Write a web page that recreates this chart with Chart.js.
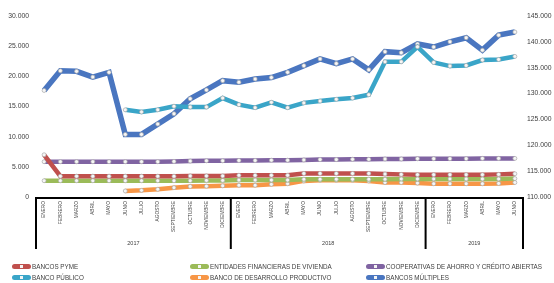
<!DOCTYPE html>
<html>
<head>
<meta charset="utf-8">
<script src="https://cdn.jsdelivr.net/npm/chart.js@4/dist/chart.umd.min.js"></script>
<style>
html, body { margin: 0; padding: 0; background: #fff; }
#wrap { position: relative; width: 554px; height: 283px; }
#legend { position: absolute; left: 0; top: 0; width: 554px; height: 283px; pointer-events: none;
  font-family: 'Liberation Sans', sans-serif; font-size: 6.3px; color: #404040; }
.item { position: absolute; display: flex; align-items: center; height: 10px; white-space: nowrap; }
.sw { position: relative; width: 19px; height: 5px; margin-right: 1px; border-radius: 2.5px; }
.sw i { position: absolute; left: 8px; top: 1px; width: 3px; height: 3px; background: #f4f4f4; }
</style>
</head>
<body>
<div id="wrap">
  <canvas id="chart" width="554" height="283"></canvas>
  <div id="legend"></div>
</div>
<script>
const months = ['ENERO','FEBRERO','MARZO','ABRIL','MAYO','JUNIO','JULIO','AGOSTO','SEPTIEMBRE','OCTUBRE','NOVIEMBRE','DICIEMBRE',
  'ENERO','FEBRERO','MARZO','ABRIL','MAYO','JUNIO','JULIO','AGOSTO','SEPTIEMBRE','OCTUBRE','NOVIEMBRE','DICIEMBRE',
  'ENERO','FEBRERO','MARZO','ABRIL','MAYO','JUNIO'];
const years = ['2017', '2018', '2019'];
const yearSpans = [12, 12, 6];

const bancosPyme = [7000,3450,3450,3450,3450,3450,3450,3450,3450,3500,3500,3500,
  3600,3600,3600,3600,3900,3900,3900,3900,3900,3800,3750,3700,
  3700,3700,3700,3700,3750,3850];
const entidadesVivienda = [2700,2700,2700,2700,2700,2700,2700,2700,2700,2700,2750,2750,
  2800,2800,2800,2800,2950,2950,2950,2950,2950,2950,3000,3000,
  3000,3000,3000,3000,3000,3050];
const cooperativas = [5850,5850,5850,5850,5850,5850,5850,5850,5900,5950,6000,6000,
  6050,6050,6100,6100,6150,6200,6200,6250,6250,6300,6300,6350,
  6350,6350,6350,6400,6400,6400];
const bancoPublico = [null,null,null,null,null,14450,14100,14450,15050,14900,14900,16400,
  15300,14800,15700,14800,15600,15900,16200,16400,16950,22400,22400,24900,
  22300,21700,21800,22700,22800,23300];
const bancoDesarrollo = [null,null,null,null,null,1000,1100,1280,1550,1750,1800,1850,
  1950,1950,2100,2200,2670,2780,2780,2780,2670,2400,2400,2300,
  2200,2200,2200,2200,2250,2400];
const bancosMultiples = [130600,134400,134300,133200,134100,122100,122100,124100,126100,129000,130700,132500,
  132200,132800,133100,134100,135400,136700,135800,136700,134600,138100,137900,139600,
  139000,140000,140800,138400,141300,141900];

const seriesNames = ['BANCOS PYME','ENTIDADES FINANCIERAS DE VIVIENDA','COOPERATIVAS DE AHORRO Y CRÉDITO ABIERTAS',
  'BANCO PÚBLICO','BANCO DE DESARROLLO PRODUCTIVO','BANCOS MÚLTIPLES'];
const seriesColors = ['#c0504d','#9bbb59','#8064a2','#3aa5c8','#f79646','#4a76c0'];
const seriesData = [bancosPyme, entidadesVivienda, cooperativas, bancoPublico, bancoDesarrollo, bancosMultiples];
const seriesAxis = ['y','y','y','y','y','y1'];
const seriesOrder = [1, 3, 2, 4, 5, 6];

const fmt = v => v.toLocaleString('de-DE');

// box under the month labels with the years
const yearBox = {
  id: 'yearBox',
  afterDraw(chart) {
    const x = chart.scales.x;
    const ctx = chart.ctx;
    const top = chart.chartArea.bottom + 1;
    const bottom = top + 51;
    const edges = [x.left];
    let idx = 0;
    yearSpans.forEach(n => {
      idx += n;
      edges.push(idx < months.length ? (x.getPixelForTick(idx - 1) + x.getPixelForTick(idx)) / 2 : x.right);
    });
    ctx.save();
    ctx.strokeStyle = '#000';
    ctx.lineWidth = 2;
    ctx.beginPath();
    ctx.moveTo(x.left - 1, top);
    ctx.lineTo(x.right + 1, top);
    edges.forEach(e => { ctx.moveTo(e, top); ctx.lineTo(e, bottom); });
    ctx.stroke();
    ctx.fillStyle = '#404040';
    ctx.font = '5.5px "Liberation Sans"';
    ctx.textAlign = 'center';
    ctx.textBaseline = 'middle';
    years.forEach((yr, i) => ctx.fillText(yr, (edges[i] + edges[i + 1]) / 2, top + 45));
    ctx.restore();
  }
};

const datasets = seriesNames.map((name, i) => ({
  label: name,
  data: seriesData[i],
  yAxisID: seriesAxis[i],
  order: seriesOrder[i],
  borderColor: seriesColors[i],
  backgroundColor: seriesColors[i],
  borderWidth: i === 5 ? 5.5 : 4.5,
  pointRadius: 2,
  pointBackgroundColor: '#f6f6f6',
  pointBorderColor: 'rgba(170,170,170,0.9)',
  pointBorderWidth: 0.8,
  tension: 0,
  spanGaps: false
}));

const chart = new Chart(document.getElementById('chart'), {
  type: 'line',
  data: { labels: months, datasets: datasets },
  options: {
    responsive: false,
    animation: false,
    layout: { padding: { top: 16, left: 0, right: 0, bottom: 0 } },
    plugins: { legend: { display: false }, tooltip: { enabled: false } },
    scales: {
      x: {
        offset: true,
        grid: { display: false, drawTicks: false },
        border: { display: false },
        ticks: { autoSkip: false, maxRotation: 90, minRotation: 90, padding: 4,
          color: '#404040', font: { family: 'Liberation Sans', size: 4.8 } },
        afterFit: s => { s.height = 86; }
      },
      y: {
        position: 'left', min: 0, max: 30000,
        grid: { display: false, drawTicks: false },
        border: { display: false },
        ticks: { stepSize: 5000, padding: 7, color: '#404040', font: { family: 'Liberation Sans', size: 6.8 },
          callback: v => fmt(v) },
        afterFit: s => { s.width = 36; }
      },
      y1: {
        position: 'right', min: 110000, max: 145000,
        grid: { display: false, drawTicks: false },
        border: { display: false },
        ticks: { stepSize: 5000, padding: 4, color: '#404040', font: { family: 'Liberation Sans', size: 6.8 },
          callback: v => fmt(v) },
        afterFit: s => { s.width = 31; }
      }
    }
  },
  plugins: [yearBox]
});

// legend in three columns, two rows
const legend = document.getElementById('legend');
const colX = [12, 190, 366];
const rowY = [261, 272];
seriesNames.forEach((name, i) => {
  const item = document.createElement('div');
  item.className = 'item';
  item.style.left = colX[i % 3] + 'px';
  item.style.top = rowY[Math.floor(i / 3)] + 'px';
  item.innerHTML = '<span class="sw" style="background:' + seriesColors[i] + '"><i></i></span>' + name;
  legend.append(item);
});
</script>
</body>
</html>
